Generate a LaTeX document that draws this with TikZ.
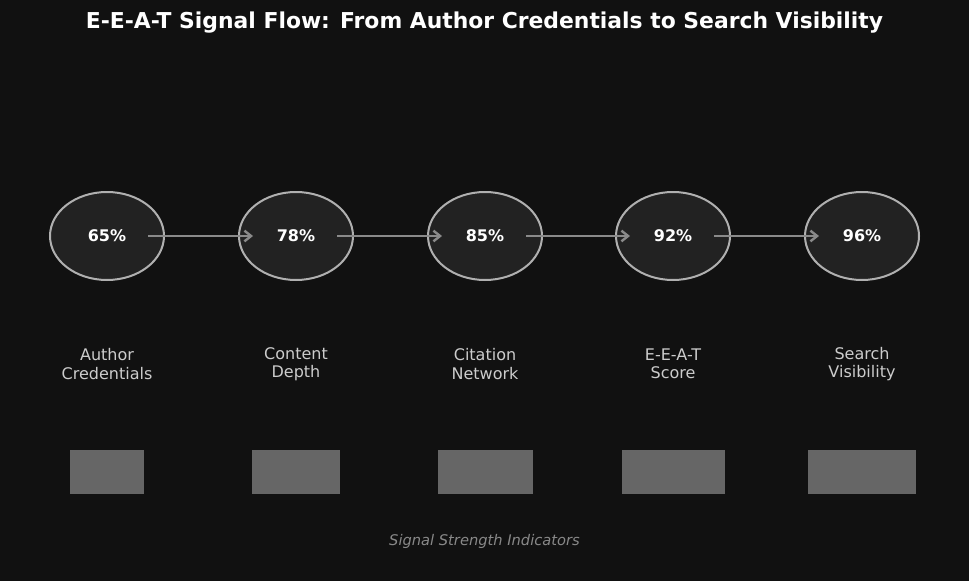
\documentclass[tikz,border=0pt]{standalone}
\usepackage{fontspec}
\setmainfont{DejaVu Sans}
\usetikzlibrary{shapes.geometric,arrows.meta}
\definecolor{bg}{HTML}{111111}
\definecolor{cfill}{HTML}{222222}
\definecolor{cedge}{HTML}{B0B0B0}
\definecolor{arr}{HTML}{8A8A8A}
\definecolor{bar}{HTML}{666666}
\definecolor{lbl}{HTML}{CCCCCC}
\definecolor{note}{HTML}{888888}
\tikzset{
  stage/.style={ellipse,draw=cedge,line width=1.5pt,fill=cfill,minimum width=85.5pt,minimum height=66pt,inner sep=0pt,text=white,font=\bfseries\fontsize{12}{14}\selectfont},
  flow/.style={draw=arr,line width=1.8pt,-{Straight Barb[length=5pt,width=8pt]}},
  lab/.style={text=lbl,align=center,font=\fontsize{12}{13.8}\selectfont},
  barbox/.style={fill=bar,draw=none,minimum height=33pt,inner sep=0pt}
}
\begin{document}
\begin{tikzpicture}[x=0.75pt,y=-0.75pt]
\fill[bg] (0,0) rectangle (969,581);
\useasboundingbox (0,0) rectangle (969,581);
\node[text=white,font=\bfseries\fontsize{16.4}{19}\selectfont] (title) at (484.5,23) {E-E-A-T Signal Flow: From Author Credentials to Search Visibility};
\foreach \i/\x/\p/\t/\w in {1/107/65\%/Author\\Credentials/74,2/296/78\%/Content\\Depth/88,3/485/85\%/Citation\\Network/95,4/673/92\%/E-E-A-T\\Score/103,5/862/96\%/Search\\Visibility/108}{
  \node[stage] (c\i) at (\x,236) {\p};
  \node[lab] (l\i) at (\x,364) {\t};
  \node[barbox,minimum width=\w*0.75pt] (b\i) at (\x,471.5) {};
}
\foreach \a/\b in {1/2,2/3,3/4,4/5}{
  \coordinate (s\a) at ([xshift=30.75pt]c\a.center);
  \coordinate (e\a) at ([xshift=-32.25pt]c\b.center);
  \draw[flow] (s\a) -- (e\a);
}
\node[text=note,font=\itshape\fontsize{11}{12}\selectfont] (foot) at (484.5,541) {Signal Strength Indicators};
\end{tikzpicture}
\end{document}
